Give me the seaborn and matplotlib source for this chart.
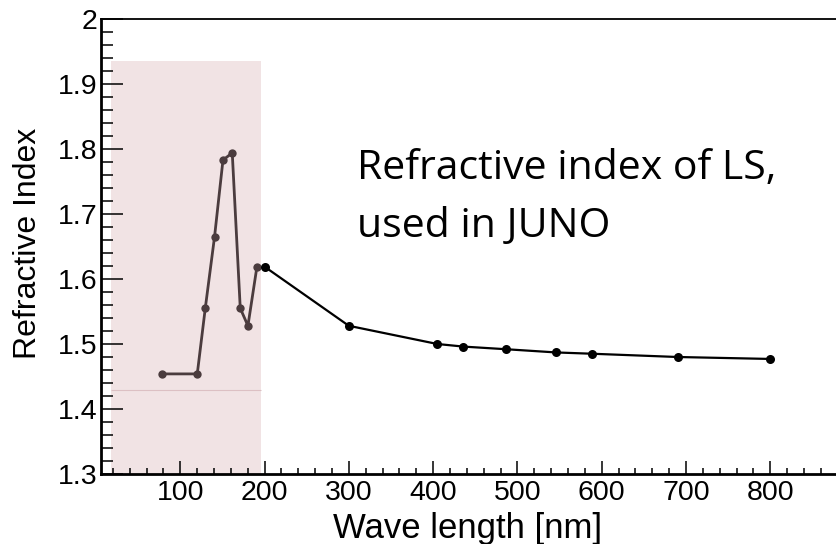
import matplotlib
matplotlib.use("Agg")
import matplotlib.pyplot as plt
import matplotlib.ticker as mticker
import numpy as np
import pandas as pd
import seaborn as sns

# ---- data ----
old_wavelength = [78.6, 120.2, 129.7, 140.7, 150.7, 161.7, 171.2, 180.3, 191.0]
old_index = [1.454, 1.454, 1.555, 1.665, 1.783, 1.794, 1.555, 1.528, 1.619]

juno_wavelength = [200, 300, 405, 436, 486, 546, 589, 690, 800]
juno_index = [1.619, 1.528, 1.500, 1.496, 1.492, 1.487, 1.485, 1.480, 1.477]

x_ticks = [100, 200, 300, 400, 500, 600, 700, 800]
y_ticks = [1.3, 1.4, 1.5, 1.6, 1.7, 1.8, 1.9, 2.0]

shade_x = (18, 196)       # pink inset region (nm)
shade_top = 1.935
shade_line = 1.43

annot_lines = ["Refractive index of LS,", "used in JUNO"]

# ---- style ----
sns.set_style("ticks")
plt.rcParams["font.family"] = ["Liberation Sans", "DejaVu Sans"]
for k in ["text.color", "axes.labelcolor", "xtick.color", "ytick.color", "axes.edgecolor"]:
    plt.rcParams[k] = "black"

fig = plt.figure(figsize=(8.37, 5.44), dpi=100)
ax = fig.add_axes([101 / 837, 70 / 544, 753.6 / 837, 455 / 544])

old_df = pd.DataFrame({"wl": old_wavelength, "n": old_index})
juno_df = pd.DataFrame({"wl": juno_wavelength, "n": juno_index})

# pink inset background
ax.fill_between(list(shade_x), [1.3, 1.3], [shade_top, shade_top],
                color="#f1e3e4", lw=0, zorder=0)
ax.hlines(shade_line, shade_x[0], shade_x[1], color="#dcc0c3", lw=0.8, zorder=0.5)

sns.lineplot(data=old_df, x="wl", y="n", ax=ax, color="#4b3c3e", lw=2.0,
             marker="o", markersize=6, markeredgewidth=0, sort=False,
             errorbar=None, zorder=3)
sns.lineplot(data=juno_df, x="wl", y="n", ax=ax, color="black", lw=1.6,
             marker="o", markersize=6.5, markeredgewidth=0, sort=False,
             errorbar=None, zorder=4)

ax.set_xlim(6, 900)
ax.set_ylim(1.3, 2.0)
ax.set_xticks(x_ticks)
ax.set_yticks(y_ticks)
ax.xaxis.set_minor_locator(mticker.MultipleLocator(20))
ax.yaxis.set_minor_locator(mticker.MultipleLocator(0.02))
ax.yaxis.set_major_formatter(mticker.FuncFormatter(lambda v, p: f"{v:g}"))
ax.set_xticklabels([str(t) for t in x_ticks])

ax.tick_params(axis="x", which="major", direction="in", length=9.4, width=1.1,
               labelsize=20.5, pad=4, top=False, colors="black")
ax.tick_params(axis="x", which="minor", direction="in", length=4.3, width=1.1,
               top=False, colors="black")
ax.tick_params(axis="y", which="major", direction="in", length=16, width=1.1,
               labelsize=20.5, pad=2.5, right=False, colors="black")
ax.tick_params(axis="y", which="minor", direction="in", length=8.6, width=1.1,
               right=False, colors="black")

for s in ["left", "bottom"]:
    ax.spines[s].set_linewidth(2.0)
    ax.spines[s].set_color("black")
ax.spines["top"].set_linewidth(1.3)
ax.spines["top"].set_color("black")
ax.spines["right"].set_visible(False)

ax.set_xlabel("Wave length [nm]", fontsize=25, va="baseline", ha="center", color="black")
ax.xaxis.set_label_coords(468 / 837, (544 - 538) / 544, transform=fig.transFigure)
ax.set_ylabel("Refractive Index", fontsize=23, va="center", ha="center", color="black")
ax.yaxis.set_label_coords(28.5 / 837, (544 - 243.5) / 544, transform=fig.transFigure)

fig.text(357 / 837, (544 - 179) / 544, annot_lines[0], fontsize=29.5, color="black",
         family=["Open Sans", "DejaVu Sans"], va="baseline", ha="left")
fig.text(357 / 837, (544 - 237) / 544, annot_lines[1], fontsize=29.5, color="black",
         family=["Open Sans", "DejaVu Sans"], va="baseline", ha="left")

fig.savefig("out.png", dpi=100)
